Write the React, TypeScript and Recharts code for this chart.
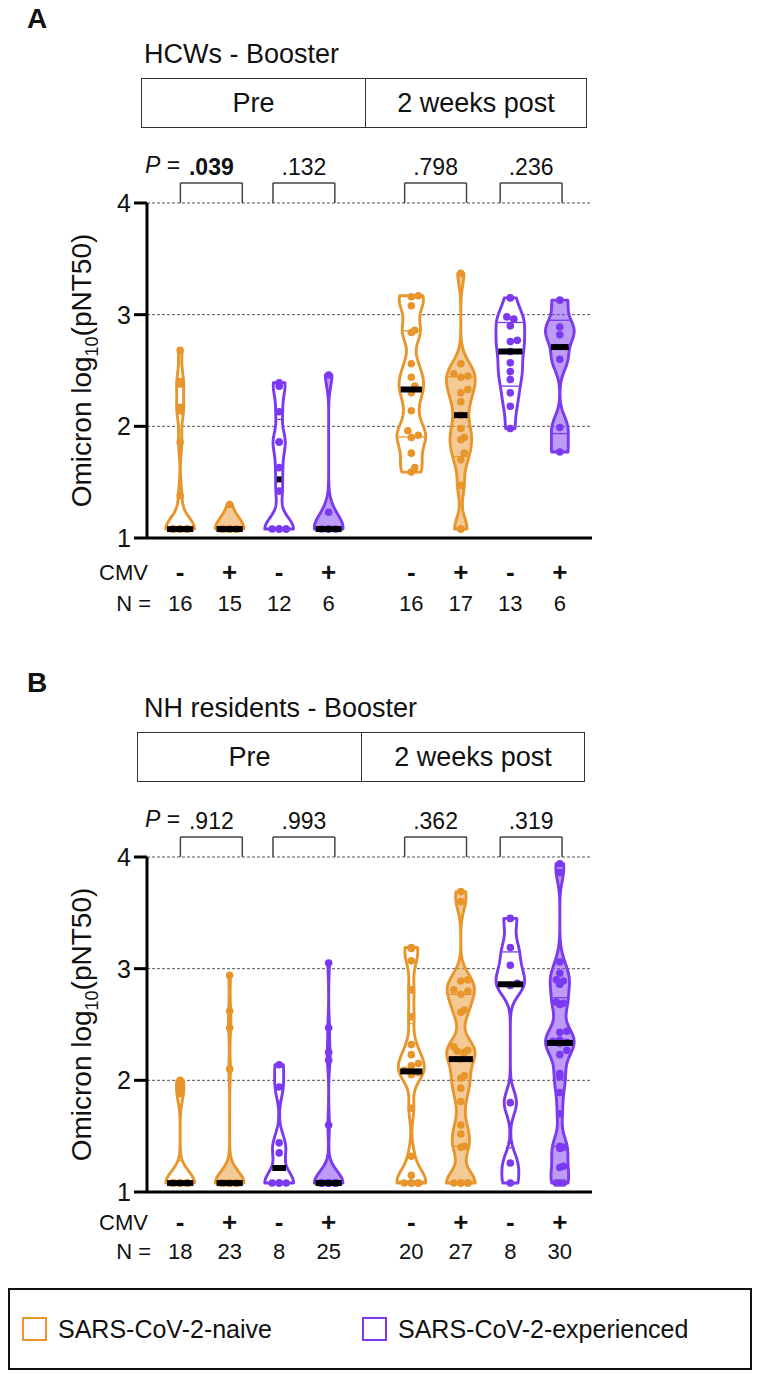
import React from "react";
import { ComposedChart, Scatter, XAxis, YAxis, CartesianGrid, ReferenceLine } from "recharts";

const FONT = '"Liberation Sans", Arial, Helvetica, sans-serif';
const NAIVE = "#E8952C";
const EXPERIENCED = "#7B3AF0";

// group layout: Pre (4 groups) | 2 weeks post (4 groups)
const positions = [1, 2, 3, 4, 5.67, 6.67, 7.67, 8.67];
const cmvStatus = ["-", "+", "-", "+", "-", "+", "-", "+"];
const infection = ["naive", "naive", "experienced", "experienced", "naive", "naive", "experienced", "experienced"];
const yTicks = [1, 2, 3, 4];
const periods = ["Pre", "2 weeks post"];

// comparison brackets (CMV- vs CMV+), centred over each pair
const bracketCenters = [1.63, 3.5, 6.16, 8.09];
const hcwPValues = [".039", ".132", ".798", ".236"];
const hcwBold = [true, false, false, false];
const nhPValues = [".912", ".993", ".362", ".319"];
const nhBold = [false, false, false, false];

// Omicron log10(pNT50), HCWs
const hcwPreNaiveNeg = [2.68, 2.4, 2.38, 2.17, 2.14, 1.86, 1.38, 1.08, 1.08, 1.08, 1.08, 1.08, 1.08, 1.08, 1.08, 1.08];
const hcwPreNaivePos = [1.3, 1.08, 1.08, 1.08, 1.08, 1.08, 1.08, 1.08, 1.08, 1.08, 1.08, 1.08, 1.08, 1.08, 1.08];
const hcwPreExpNeg = [2.39, 2.36, 2.13, 1.86, 1.86, 1.63, 1.42, 1.08, 1.08, 1.08, 1.08, 1.08];
const hcwPreExpPos = [2.46, 1.23, 1.08, 1.08, 1.08, 1.08];
const hcwPostNaiveNeg = [3.17, 3.16, 3.08, 2.86, 2.84, 2.56, 2.44, 2.36, 2.3, 2.14, 1.96, 1.92, 1.9, 1.76, 1.63, 1.59];
const hcwPostNaivePos = [3.37, 2.56, 2.47, 2.45, 2.44, 2.33, 2.3, 2.22, 2.1, 1.98, 1.9, 1.88, 1.76, 1.7, 1.47, 1.08, 1.08];
const hcwPostExpNeg = [3.15, 2.98, 2.96, 2.9, 2.77, 2.76, 2.67, 2.57, 2.49, 2.42, 2.3, 2.18, 1.98];
const hcwPostExpPos = [3.13, 2.89, 2.82, 2.6, 1.99, 1.77];

// Omicron log10(pNT50), NH residents
const nhPreNaiveNeg = [2.0, 1.96, 1.92, 1.88, 1.08, 1.08, 1.08, 1.08, 1.08, 1.08, 1.08, 1.08, 1.08, 1.08, 1.08, 1.08, 1.08, 1.08];
const nhPreNaivePos = [2.94, 2.62, 2.47, 2.1, 1.08, 1.08, 1.08, 1.08, 1.08, 1.08, 1.08, 1.08, 1.08, 1.08, 1.08, 1.08, 1.08, 1.08, 1.08, 1.08, 1.08, 1.08, 1.08];
const nhPreExpNeg = [2.14, 1.94, 1.44, 1.35, 1.08, 1.08, 1.08, 1.08];
const nhPreExpPos = [3.05, 2.47, 2.25, 2.18, 1.6, 1.08, 1.08, 1.08, 1.08, 1.08, 1.08, 1.08, 1.08, 1.08, 1.08, 1.08, 1.08, 1.08, 1.08, 1.08, 1.08, 1.08, 1.08, 1.08, 1.08];
const nhPostNaiveNeg = [3.19, 3.18, 3.07, 2.81, 2.57, 2.32, 2.23, 2.15, 2.13, 2.09, 2.07, 2.05, 1.75, 1.32, 1.15, 1.08, 1.08, 1.08, 1.08, 1.08];
const nhPostNaivePos = [3.69, 3.6, 2.9, 2.89, 2.81, 2.8, 2.77, 2.63, 2.61, 2.3, 2.27, 2.26, 2.25, 2.19, 2.04, 2.02, 1.93, 1.81, 1.6, 1.52, 1.41, 1.4, 1.08, 1.08, 1.08, 1.08, 1.08];
const nhPostExpNeg = [3.45, 3.19, 3.03, 2.87, 2.85, 1.8, 1.26, 1.08];
const nhPostExpPos = [3.94, 3.86, 3.06, 2.96, 2.9, 2.89, 2.86, 2.7, 2.69, 2.68, 2.44, 2.43, 2.36, 2.35, 2.34, 2.33, 2.27, 2.23, 2.06, 2.03, 1.89, 1.7, 1.41, 1.4, 1.39, 1.23, 1.22, 1.08, 1.08, 1.08];

const hcwGroups = [hcwPreNaiveNeg, hcwPreNaivePos, hcwPreExpNeg, hcwPreExpPos, hcwPostNaiveNeg, hcwPostNaivePos, hcwPostExpNeg, hcwPostExpPos];
const nhGroups = [nhPreNaiveNeg, nhPreNaivePos, nhPreExpNeg, nhPreExpPos, nhPostNaiveNeg, nhPostNaivePos, nhPostExpNeg, nhPostExpPos];

const X_DOMAIN: [number, number] = [0.33, 9.32];
const Y_DOMAIN: [number, number] = [1, 4];
const HALF = 0.29; // max violin half width (x units)
const BW = 0.105; // kde bandwidth
const PX_X = 445 / (X_DOMAIN[1] - X_DOMAIN[0]);
const PX_Y = 335 / 3;
const BRACKET_TOP = 4.18;
const DOT_R = 3.8;

function density(vals: number[], y: number) {
  let s = 0;
  for (const v of vals) s += Math.exp(-0.5 * ((y - v) / BW) ** 2);
  return s;
}

function quantile(sorted: number[], p: number) {
  const n = sorted.length;
  let pos = p * (n + 1) - 1;
  pos = Math.max(0, Math.min(n - 1, pos));
  const lo = Math.floor(pos);
  const hi = Math.min(n - 1, lo + 1);
  return sorted[lo] + (sorted[hi] - sorted[lo]) * (pos - lo);
}

function buildViolin(vals: number[], c: number) {
  const lo = Math.min(...vals);
  const hi = Math.max(...vals);
  const ys: number[] = [];
  for (let i = 0; i <= 90; i++) ys.push(lo + ((hi - lo) * i) / 90);
  const dens = ys.map((y) => density(vals, y));
  const max = Math.max(...dens);
  const hwAt = (y: number) => (HALF * density(vals, y)) / max;
  const right = ys.map((y, i) => ({ x: c + (HALF * dens[i]) / max, y }));
  const left = ys.map((y, i) => ({ x: c - (HALF * dens[i]) / max, y })).reverse();

  const sorted = [...vals].sort((a, b) => a - b);
  const med = quantile(sorted, 0.5);
  const q1 = quantile(sorted, 0.25);
  const q3 = quantile(sorted, 0.75);
  const seg = (y: number, inset: number) => {
    const w = Math.max(hwAt(y) - inset, 0.02);
    return [{ x: c - w, y }, { x: c + w, y }];
  };

  // beeswarm of the points inside the violin
  const D = 2 * DOT_R - 0.6;
  const placed: { x: number; y: number }[] = [];
  for (const v of sorted) {
    const lim = Math.max(hwAt(v) * PX_X - 4, 0);
    const cands = [0];
    for (let k = 1; k <= 12; k++) cands.push((k * D) / 2, (-k * D) / 2);
    let best = 0;
    let bestScore = Infinity;
    for (const dx of cands) {
      if (Math.abs(dx) > lim + 0.01) continue;
      let overlap = 0;
      for (const p of placed) {
        const d = Math.hypot(p.x - dx, (p.y - v) * PX_Y);
        if (d < D) overlap += D - d;
      }
      if (overlap < bestScore) {
        bestScore = overlap;
        best = dx;
      }
      if (overlap === 0) break;
    }
    placed.push({ x: best, y: v });
  }
  const dots = placed.map((p) => ({ x: c + p.x / PX_X, y: p.y }));

  return {
    outline: [...right, ...left],
    dots,
    median: seg(med, 0.025),
    quartiles: [...seg(q1, 0.03), ...seg(q3, 0.03)],
  };
}

const blank = () => <g />;

const outlineRenderer = (color: string, filled: boolean) => (props: any) => {
  const pts = props.points || [];
  if (!pts.length) return <g />;
  const d = pts.map((p: any, i: number) => `${i ? "L" : "M"}${p.x},${p.y}`).join(" ") + " Z";
  return (
    <path
      d={d}
      fill={filled ? color : "#fff"}
      fillOpacity={filled ? 0.5 : 1}
      stroke={color}
      strokeWidth={2.9}
      strokeLinejoin="round"
    />
  );
};

const segmentRenderer = (color: string, width: number) => (props: any) => {
  const pts = props.points || [];
  const out = [];
  for (let i = 0; i + 1 < pts.length; i += 2) {
    out.push(
      <line key={i} x1={pts[i].x} y1={pts[i].y} x2={pts[i + 1].x} y2={pts[i + 1].y} stroke={color} strokeWidth={width} />
    );
  }
  return <g>{out}</g>;
};

const dotShape = (color: string) => (p: any) => <circle cx={p.cx} cy={p.cy} r={DOT_R} fill={color} />;

const YLabel = (props: any) => {
  const vb = props.viewBox || { x: 87, y: 203, height: 335 };
  const x = vb.x + 4;
  const y = vb.y + vb.height / 2;
  return (
    <text x={x} y={y} transform={`rotate(-90, ${x}, ${y})`} textAnchor="middle" fontSize={28} fill="#111" fontFamily={FONT}>
      Omicron log
      <tspan dy={7} fontSize={18}>10</tspan>
      <tspan dy={-7}>(pNT50)</tspan>
    </text>
  );
};

const makeTick = (groups: number[][], cmvY: number, nY: number) => (props: any) => {
  const { x, index } = props;
  return (
    <g fontFamily={FONT} fill="#111">
      {index === 0 && (
        <>
          <text x={148} y={cmvY} textAnchor="end" dominantBaseline="central" fontSize={22}>CMV</text>
          <text x={151} y={nY} textAnchor="end" dominantBaseline="central" fontSize={22}>N =</text>
        </>
      )}
      <text x={x} y={cmvY} textAnchor="middle" dominantBaseline="central" fontSize={26} fontWeight={700}>
        {cmvStatus[index]}
      </text>
      <text x={x} y={nY} textAnchor="middle" dominantBaseline="central" fontSize={22}>
        {groups[index].length}
      </text>
    </g>
  );
};

type PanelProps = {
  top: number;
  letter: string;
  letterTop: number;
  title: string;
  boxLeft: number;
  boxRight: number;
  boxDivider: number;
  groups: number[][];
  pValues: string[];
  bold: boolean[];
  cmvY: number;
  nY: number;
};

function Panel(p: PanelProps) {
  const series = p.groups.map((vals, i) => ({
    ...buildViolin(vals, positions[i]),
    color: infection[i] === "naive" ? NAIVE : EXPERIENCED,
    filled: cmvStatus[i] === "+",
  }));
  const boxBorder = "1.8px solid #333";
  return (
    <div style={{ position: "absolute", left: 0, top: p.top, width: 760, height: 640 }}>
      <div style={{ position: "absolute", left: 27, top: p.letterTop, fontSize: 28, fontWeight: 700, color: "#111" }}>{p.letter}</div>
      <div style={{ position: "absolute", left: 144, top: 39, fontSize: 27, color: "#111", whiteSpace: "nowrap" }}>{p.title}</div>
      <div
        style={{
          position: "absolute",
          left: p.boxLeft,
          top: 78,
          width: p.boxRight - p.boxLeft,
          height: 50,
          border: boxBorder,
          boxSizing: "border-box",
          display: "flex",
          fontSize: 27,
          color: "#111",
        }}
      >
        <div style={{ width: p.boxDivider - p.boxLeft, borderRight: boxBorder, display: "flex", alignItems: "center", justifyContent: "center" }}>
          {periods[0]}
        </div>
        <div style={{ flex: 1, display: "flex", alignItems: "center", justifyContent: "center" }}>{periods[1]}</div>
      </div>
      <div style={{ position: "absolute", left: 145, top: 152, fontSize: 23, color: "#111" }}>
        <span style={{ fontStyle: "italic" }}>P</span> =
      </div>
      <div style={{ position: "absolute", left: 0, top: 0 }}>
        <ComposedChart width={760} height={640} margin={{ top: 203, right: 168, bottom: 0, left: 87 }}>
          <CartesianGrid vertical={false} stroke="#555" strokeDasharray="3 2" strokeWidth={1} />
          <XAxis
            type="number"
            dataKey="x"
            domain={X_DOMAIN}
            ticks={positions}
            allowDataOverflow
            height={102}
            axisLine={{ stroke: "#000", strokeWidth: 3 }}
            tickLine={false}
            interval={0}
            tick={makeTick(p.groups, p.cmvY, p.nY)}
          />
          <YAxis
            type="number"
            dataKey="y"
            domain={Y_DOMAIN}
            ticks={yTicks}
            allowDataOverflow
            width={60}
            axisLine={{ stroke: "#000", strokeWidth: 3 }}
            tickLine={{ stroke: "#000", strokeWidth: 3 }}
            tickSize={13}
            tickMargin={3}
            tick={{ fontSize: 25, fill: "#111", fontFamily: FONT }}
            label={{ content: YLabel }}
          />
          {p.pValues.map((pv, i) => {
            const l = bracketCenters[i] - 0.625;
            const r = bracketCenters[i] + 0.625;
            const common = { stroke: "#444", strokeWidth: 1.5, ifOverflow: "visible" as const };
            return [
              <ReferenceLine key={`bl${i}`} segment={[{ x: l, y: 4 }, { x: l, y: BRACKET_TOP }]} {...common} />,
              <ReferenceLine
                key={`bt${i}`}
                segment={[{ x: l, y: BRACKET_TOP }, { x: r, y: BRACKET_TOP }]}
                {...common}
                label={{ value: pv, position: "top", offset: 8, fontSize: 23, fontWeight: p.bold[i] ? 700 : 400, fill: "#111", fontFamily: FONT }}
              />,
              <ReferenceLine key={`br${i}`} segment={[{ x: r, y: BRACKET_TOP }, { x: r, y: 4 }]} {...common} />,
            ];
          })}
          {series.flatMap((s, i) => [
            <Scatter key={`v${i}`} data={s.outline} shape={blank} line={outlineRenderer(s.color, s.filled)} lineType="joint" isAnimationActive={false} />,
            <Scatter key={`q${i}`} data={s.quartiles} shape={blank} line={segmentRenderer(s.color, 1.3)} lineType="joint" isAnimationActive={false} />,
            <Scatter key={`d${i}`} data={s.dots} shape={dotShape(s.color)} isAnimationActive={false} />,
            <Scatter key={`m${i}`} data={s.median} shape={blank} line={segmentRenderer("#000", 6)} lineType="joint" isAnimationActive={false} />,
          ])}
        </ComposedChart>
      </div>
    </div>
  );
}

function LegendBox() {
  const item = (color: string, label: string, left: number) => (
    <div style={{ position: "absolute", left, top: 0, height: "100%", display: "flex", alignItems: "center" }}>
      <div style={{ width: 25, height: 24, border: `2.5px solid ${color}`, boxSizing: "border-box", marginRight: 11 }} />
      <span style={{ fontSize: 25, color: "#111", whiteSpace: "nowrap" }}>{label}</span>
    </div>
  );
  return (
    <div
      style={{
        position: "absolute",
        left: 8,
        top: 1288,
        width: 744,
        height: 82,
        border: "2px solid #111",
        boxSizing: "border-box",
      }}
    >
      {item(NAIVE, "SARS-CoV-2-naive", 12)}
      {item(EXPERIENCED, "SARS-CoV-2-experienced", 352)}
    </div>
  );
}

export default function App() {
  return (
    <div style={{ position: "relative", width: 760, height: 1375, fontFamily: FONT, background: "#fff" }}>
      <style>{"body{margin:0}"}</style>
      <Panel
        top={0}
        letter="A"
        letterTop={3}
        title="HCWs - Booster"
        boxLeft={141}
        boxRight={587}
        boxDivider={364}
        groups={hcwGroups}
        pValues={hcwPValues}
        bold={hcwBold}
        cmvY={572}
        nY={603}
      />
      <Panel
        top={654}
        letter="B"
        letterTop={13}
        title="NH residents - Booster"
        boxLeft={137}
        boxRight={585}
        boxDivider={360}
        groups={nhGroups}
        pValues={nhPValues}
        bold={nhBold}
        cmvY={568}
        nY={597}
      />
      <LegendBox />
    </div>
  );
}
